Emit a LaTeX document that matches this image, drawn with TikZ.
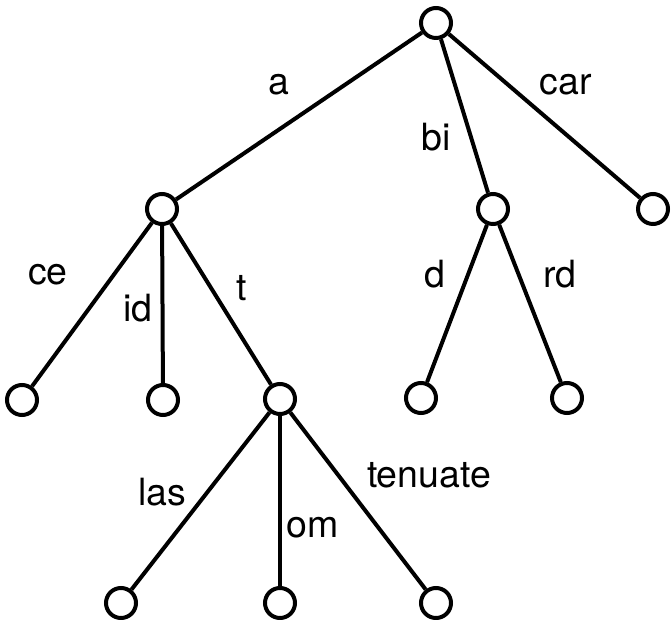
\documentclass[tikz,border=0pt]{standalone}
\usepackage{fontspec}
\setmainfont{TeX Gyre Heros}
\begin{document}
\begin{tikzpicture}[x=1pt,y=1pt,
  vertex/.style={circle,draw=black,line width=4pt,minimum size=30pt,inner sep=0pt,fill=white},
  edge/.style={draw=black,line width=4pt},
  lbl/.style={inner sep=0pt,font=\fontsize{37.5}{45}\selectfont}]
\useasboundingbox (0,0) rectangle (671,620);

% vertices
\node[vertex] (r)  at (436,597) {};
\node[vertex] (a)  at (162,411) {};
\node[vertex] (b)  at (493,411) {};
\node[vertex] (c)  at (653,411) {};
\node[vertex] (a1) at (22,220) {};
\node[vertex] (a2) at (163,220) {};
\node[vertex] (t)  at (280,221) {};
\node[vertex] (b1) at (421,222) {};
\node[vertex] (b2) at (567,222) {};
\node[vertex] (t1) at (121,17) {};
\node[vertex] (t2) at (280,17) {};
\node[vertex] (t3) at (436,17) {};

% edges
\draw[edge] (r) -- (a);
\draw[edge] (r) -- (b);
\draw[edge] (r) -- (c);
\draw[edge] (a) -- (a1);
\draw[edge] (a) -- (a2);
\draw[edge] (a) -- (t);
\draw[edge] (b) -- (b1);
\draw[edge] (b) -- (b2);
\draw[edge] (t) -- (t1);
\draw[edge] (t) -- (t2);
\draw[edge] (t) -- (t3);

% edge labels
\node[lbl] (la)   at (279,535) {a};
\node[lbl] (lcar) at (566,535) {car};
\node[lbl] (lbi)  at (436,483) {bi};
\node[lbl] (lce)  at (48,345) {ce};
\node[lbl] (lid)  at (138,312) {id};
\node[lbl] (lt)   at (242,332) {t};
\node[lbl] (ld)   at (435,346) {d};
\node[lbl] (lrd)  at (560,346) {rd};
\node[lbl] (llas) at (162,128) {las};
\node[lbl] (lom)  at (313,92) {om};
\node[lbl] (lten) at (429,145) {tenuate};
\end{tikzpicture}
\end{document}
